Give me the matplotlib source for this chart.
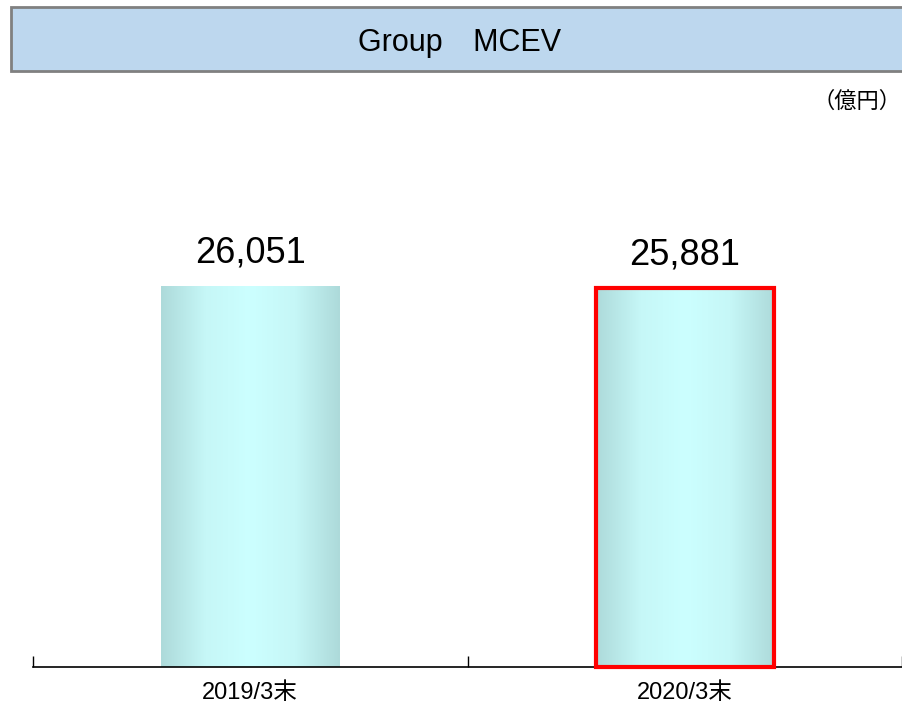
import matplotlib
matplotlib.use("Agg")
import matplotlib.pyplot as plt
import numpy as np
from matplotlib.patches import Rectangle
from matplotlib.colors import LinearSegmentedColormap

plt.rcParams['font.family'] = ['Noto Sans CJK JP', 'DejaVu Sans']

categories = ["2019/3末", "2020/3末"]
values = [26051, 25881]
value_labels = ["26,051", "25,881"]
title = "Group\u2003MCEV"
unit = "（億円）"

fig = plt.figure(figsize=(9.02, 7.09), dpi=100)
W, H = 902, 709

def fx(px):
    return px / W

def fy(py):
    return 1 - py / H

# Title box
tax = fig.add_axes([fx(11), fy(71), fx(902) - fx(11) + 0.01, fy(7) - fy(71)])
tax.set_xlim(0, 1); tax.set_ylim(0, 1)
tax.add_patch(Rectangle((0, 0), 1, 1, transform=tax.transAxes, facecolor="#BDD7EE",
                        edgecolor="#808080", linewidth=2, clip_on=False))
tax.axis("off")
fig.text(fx(460), fy(43), title, ha="center", va="center", fontsize=22, color="black",
         family=['Liberation Sans', 'DejaVu Sans'])
fig.text(fx(901), fy(101), unit, ha="right", va="center", fontsize=16, color="black")

# Main axes
left, right, bottom, top = 33, 902, 667, 100
ax = fig.add_axes([fx(left), fy(bottom), fx(right) - fx(left), fy(top) - fy(bottom)])
ymax = values[0] * (bottom - top) / (bottom - 286)
ax.set_ylim(0, ymax)
x = np.arange(len(categories))
ax.set_xlim(-0.5, len(categories) - 0.5)

cmap = LinearSegmentedColormap.from_list("g", ["#ADDADA", "#C6F7F7", "#CCFFFF", "#C6F7F7", "#ADDADA"])
grad = np.linspace(0, 1, 256).reshape(1, -1)
width = 0.41
bars = ax.bar(x, values, width=width, color="none", edgecolor="none", zorder=2)
for i, b in enumerate(bars):
    im = ax.imshow(grad, cmap=cmap, aspect="auto",
                   extent=[b.get_x(), b.get_x() + b.get_width(), 0, b.get_height()],
                   zorder=1, interpolation="bilinear")
    im.set_clip_path(b)
    ax.text(b.get_x() + b.get_width() / 2, b.get_height() + ymax * 0.028, value_labels[i],
            ha="center", va="bottom", fontsize=26,
            family=['Liberation Sans', 'DejaVu Sans'])
# highlight
b = bars[1]
ax.add_patch(Rectangle((b.get_x(), 0), b.get_width(), b.get_height(), facecolor="none",
                       edgecolor="#FF0000", linewidth=3, zorder=3, clip_on=False))
ax.set_xlim(-0.5, len(categories) - 0.5)
ax.set_ylim(0, ymax)

for s in ["top", "right", "left"]:
    ax.spines[s].set_visible(False)
ax.spines["bottom"].set_linewidth(1.2)
ax.set_yticks([])
ax.set_xticks([-0.5, 0.5, 1.5], minor=False)
ax.set_xticklabels(["", "", ""])
ax.tick_params(axis="x", direction="in", length=8, width=1)
for i, c in enumerate(categories):
    ax.text(i, -ymax * 0.045, c, ha="center", va="center", fontsize=17,
            family=['Liberation Sans', 'Noto Sans CJK JP', 'DejaVu Sans'])

fig.savefig("out.png", dpi=100)
